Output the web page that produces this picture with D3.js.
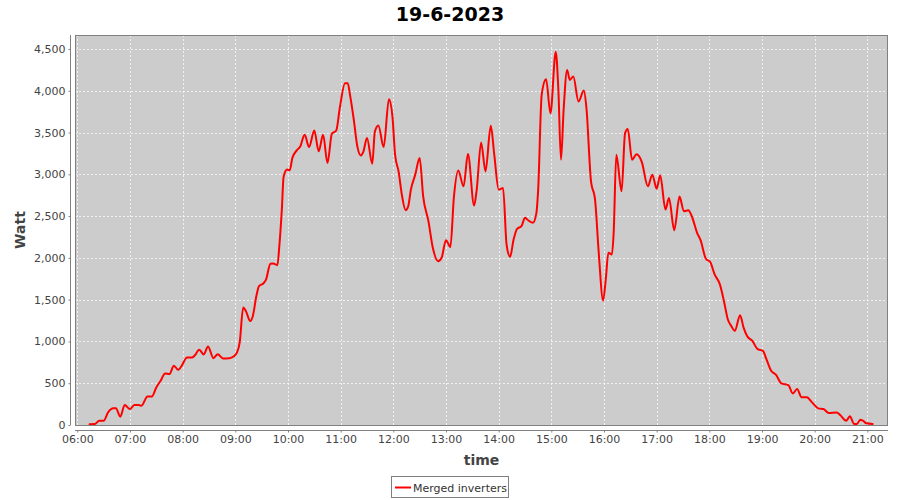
<!DOCTYPE html>
<html>
<head>
<meta charset="utf-8">
<script src="https://cdn.jsdelivr.net/npm/d3@7"></script>
<style>
  html, body { margin: 0; padding: 0; background: #ffffff; }
  svg { display: block; }
</style>
</head>
<body>
<svg id="chart" width="900" height="500"></svg>
<script>
const chartTitle = "19-6-2023";
const seriesName = "Merged inverters";
const xLabel = "time";
const yLabel = "Watt";

const times = ["06:14","06:20","06:25","06:30","06:35","06:41","06:44","06:49","06:54","07:00",
"07:05","07:10","07:13","07:20","07:25","07:30","07:35","07:40","07:45","07:50",
"07:55","07:59","08:05","08:11","08:14","08:19","08:24","08:29","08:35","08:40",
"08:46","08:53","08:58","09:02","09:05","09:09","09:12","09:17","09:20","09:24",
"09:27","09:32","09:35","09:40","09:43","09:48","09:50","09:53","09:55","09:59",
"10:02","10:05","10:10","10:14","10:19","10:24","10:30","10:35","10:40","10:45",
"10:50","10:55","10:59","11:05","11:08","11:11","11:15","11:19","11:23","11:26",
"11:30","11:36","11:39","11:43","11:49","11:55","11:59","12:02","12:06","12:10",
"12:14","12:17","12:20","12:25","12:30","12:34","12:40","12:45","12:51","12:55",
"13:00","13:05","13:09","13:14","13:20","13:25","13:32","13:35","13:40","13:45",
"13:51","13:55","14:00","14:05","14:09","14:13","14:17","14:21","14:26","14:30",
"14:34","14:39","14:43","14:45","14:49","14:54","14:59","15:05","15:08","15:11",
"15:14","15:18","15:21","15:25","15:31","15:37","15:40","15:45","15:50","15:54",
"15:59","16:02","16:05","16:09","16:11","16:14","16:20","16:24","16:27","16:32",
"16:37","16:43","16:50","16:55","17:00","17:04","17:10","17:14","17:20","17:26",
"17:31","17:36","17:40","17:46","17:50","17:56","18:01","18:06","18:12","18:17",
"18:21","18:25","18:29","18:35","18:39","18:43","18:49","18:55","19:01","19:05",
"19:10","19:16","19:22","19:30","19:35","19:40","19:45","19:51","19:57","20:04",
"20:10","20:16","20:25","20:29","20:36","20:40","20:45","20:48","20:52","20:55",
"20:59","21:06"];

const watts = [10,12,50,50,150,200,200,100,240,190,
240,240,230,340,340,450,530,617,610,710,
660,710,808,808,835,900,845,940,800,848,
797,800,820,868,987,1405,1364,1245,1305,1543,
1663,1695,1740,1930,1934,1913,2121,2578,2968,3056,
3047,3195,3286,3334,3473,3326,3525,3275,3473,3135,
3485,3525,3792,4090,4090,3930,3652,3334,3226,3275,
3434,3127,3513,3584,3326,3899,3692,3235,3035,2737,
2570,2618,2817,2996,3195,2737,2439,2121,1961,2001,
2210,2130,2727,3047,2856,3243,2626,2817,3382,3035,
3581,3235,2817,2837,2160,2013,2220,2348,2379,2479,
2447,2419,2539,2817,3951,4138,3731,4468,4011,3175,
3772,4249,4130,4170,3871,4003,3792,2936,2677,2061,
1490,1743,2061,2041,2300,3235,2797,3493,3541,3175,
3240,3150,2856,2996,2827,2990,2578,2717,2331,2733,
2558,2570,2498,2300,2212,1990,1950,1802,1683,1464,
1265,1185,1126,1313,1166,1066,1006,907,887,788,
656,600,498,477,378,430,331,331,271,199,
191,143,151,119,51,104,12,12,63,51,
20,12];

const yTicks = [0,500,1000,1500,2000,2500,3000,3500,4000,4500];
const xTickLabels = ["06:00","07:00","08:00","09:00","10:00","11:00","12:00","13:00",
"14:00","15:00","16:00","17:00","18:00","19:00","20:00","21:00"];

const parse = d3.timeParse("%H:%M");
const data = times.map((t, i) => ({ t: parse(t), v: watts[i] }));

const svg = d3.select("#chart");
const pLeft = 75, pRight = 888, pTop = 35, pBottom = 425;
const font = "DejaVu Sans, sans-serif";

const x = d3.scaleTime()
  .domain([new Date(parse("05:57").getTime() + 24000), new Date(parse("21:23").getTime() + 30000)])
  .range([pLeft, pRight]);
const y = d3.scaleLinear().domain([0, 4667]).range([pBottom, pTop]);

// title
svg.append("text")
  .attr("x", 450).attr("y", 21)
  .attr("text-anchor", "middle")
  .style("font-family", font).style("font-weight", "bold").style("font-size", "19px")
  .attr("fill", "#000")
  .text(chartTitle);

// plot background
svg.append("rect")
  .attr("x", pLeft).attr("y", pTop)
  .attr("width", pRight - pLeft).attr("height", pBottom - pTop)
  .attr("fill", "#cccccc");

// gridlines
const xTickDates = xTickLabels.map(parse);
svg.append("g").selectAll("line").data(xTickDates).join("line")
  .attr("x1", d => Math.round(x(d)) + 0.5).attr("x2", d => Math.round(x(d)) + 0.5)
  .attr("y1", pTop).attr("y2", pBottom)
  .attr("stroke", "#ffffff").attr("stroke-width", 0.7).attr("stroke-dasharray", "2,2");
svg.append("g").selectAll("line").data(yTicks).join("line")
  .attr("x1", pLeft).attr("x2", pRight)
  .attr("y1", d => Math.round(y(d)) + 0.5).attr("y2", d => Math.round(y(d)) + 0.5)
  .attr("stroke", "#ffffff").attr("stroke-width", 0.7).attr("stroke-dasharray", "2,2");

// line
const line = d3.line().curve(d3.curveMonotoneX).x(d => x(d.t)).y(d => y(d.v));
svg.append("path")
  .datum(data)
  .attr("d", line)
  .attr("fill", "none")
  .attr("stroke", "#ff0000")
  .attr("stroke-width", 2)
  .attr("stroke-linejoin", "round")
  .attr("stroke-linecap", "round");

// plot outline
svg.append("rect")
  .attr("x", pLeft + 0.5).attr("y", pTop + 0.5)
  .attr("width", pRight - pLeft - 1).attr("height", pBottom - pTop)
  .attr("fill", "none").attr("stroke", "#808080").attr("stroke-width", 1);

// x axis
const xAxis = d3.axisBottom(x)
  .tickValues(xTickDates)
  .tickFormat(d3.timeFormat("%H:%M"))
  .tickSizeInner(2).tickSizeOuter(0).tickPadding(3);
const gx = svg.append("g").attr("transform", `translate(0,${pBottom + 5.5})`).call(xAxis);
gx.select(".domain").attr("stroke", "#808080").attr("d", `M${pLeft},0H${pRight}`);
gx.selectAll(".tick line").attr("stroke", "#808080");
gx.selectAll(".tick text").style("font-family", font).style("font-size", "11px").attr("fill", "#444444");

// y axis
const yAxis = d3.axisLeft(y)
  .tickValues(yTicks)
  .tickFormat(d3.format(","))
  .tickSizeInner(2).tickSizeOuter(0).tickPadding(3);
const gy = svg.append("g").attr("transform", `translate(${pLeft - 4.5},0)`).call(yAxis);
gy.select(".domain").attr("stroke", "#808080").attr("d", `M0,${pTop}V${pBottom}`);
gy.selectAll(".tick line").attr("stroke", "#808080");
gy.selectAll(".tick text").style("font-family", font).style("font-size", "11px").attr("fill", "#444444");

// axis labels
svg.append("text")
  .attr("x", (pLeft + pRight) / 2).attr("y", 465)
  .attr("text-anchor", "middle")
  .style("font-family", font).style("font-weight", "bold").style("font-size", "14px")
  .attr("fill", "#444444")
  .text(xLabel);
svg.append("text")
  .attr("transform", `translate(25,${(pTop + pBottom) / 2}) rotate(-90)`)
  .attr("text-anchor", "middle")
  .style("font-family", font).style("font-weight", "bold").style("font-size", "14px")
  .attr("fill", "#444444")
  .text(yLabel);

// legend
const lg = svg.append("g");
lg.append("rect")
  .attr("x", 391.5).attr("y", 476.5).attr("width", 117).attr("height", 21)
  .attr("fill", "#ffffff").attr("stroke", "#808080").attr("stroke-width", 1);
lg.append("line")
  .attr("x1", 395).attr("x2", 411).attr("y1", 487.5).attr("y2", 487.5)
  .attr("stroke", "#ff0000").attr("stroke-width", 2);
lg.append("text")
  .attr("x", 413).attr("y", 491.5)
  .style("font-family", font).style("font-size", "11px")
  .attr("fill", "#333333")
  .text(seriesName);
</script>
</body>
</html>
